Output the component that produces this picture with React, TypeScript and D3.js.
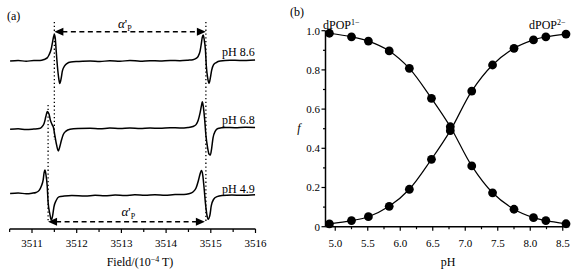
import React from 'react';
import * as d3 from 'd3';

// ---------- Panel (a): EPR spectra ----------
const fieldTicks = [3511, 3512, 3513, 3514, 3515, 3516];
const fieldMinor = [3510.5, 3511.5, 3512.5, 3513.5, 3514.5, 3515.5];
const traceLabels = ['pH 8.6', 'pH 6.8', 'pH 4.9'];

const field86 = [3510.51, 3510.69, 3510.87, 3511.04, 3511.18, 3511.27, 3511.34, 3511.38, 3511.43, 3511.46, 3511.48, 3511.50, 3511.52, 3511.54, 3511.57, 3511.60, 3511.62, 3511.65, 3511.68, 3511.73, 3511.78, 3511.87, 3512.03, 3512.30, 3512.52, 3512.74, 3512.97, 3513.19, 3513.42, 3513.64, 3513.86, 3514.09, 3514.31, 3514.49, 3514.60, 3514.67, 3514.72, 3514.76, 3514.79, 3514.81, 3514.83, 3514.85, 3514.88, 3514.90, 3514.93, 3514.96, 3514.99, 3515.02, 3515.06, 3515.12, 3515.21, 3515.43, 3515.65, 3515.99];
const int86 = [0, 0.02, -0.01, 0.02, 0.02, 0.06, 0.12, 0.23, 0.46, 0.73, 0.92, 1.02, 0.88, 0.42, -0.23, -0.69, -0.87, -0.69, -0.38, -0.19, -0.10, -0.04, -0.02, 0, -0.02, 0.01, -0.01, 0.02, -0.01, 0.01, 0, 0.02, 0.01, 0.03, 0.05, 0.10, 0.19, 0.38, 0.69, 0.92, 1.0, 0.85, 0.42, -0.19, -0.65, -0.86, -0.65, -0.35, -0.15, -0.06, 0, 0.03, 0.02, 0.04];

const field68 = [3510.51, 3510.69, 3510.87, 3511.04, 3511.16, 3511.22, 3511.27, 3511.31, 3511.34, 3511.38, 3511.41, 3511.45, 3511.48, 3511.51, 3511.55, 3511.59, 3511.62, 3511.66, 3511.70, 3511.76, 3511.85, 3512.03, 3512.30, 3512.52, 3512.74, 3512.97, 3513.19, 3513.42, 3513.64, 3513.86, 3514.09, 3514.31, 3514.49, 3514.60, 3514.67, 3514.72, 3514.76, 3514.79, 3514.81, 3514.83, 3514.86, 3514.89, 3514.93, 3514.96, 3514.99, 3515.02, 3515.05, 3515.10, 3515.16, 3515.32, 3515.54, 3515.77, 3515.99];
const int68 = [0, 0.02, -0.01, 0.01, 0.03, 0.09, 0.22, 0.49, 0.68, 0.59, 0.36, 0.18, 0.07, -0.22, -0.60, -0.83, -0.68, -0.41, -0.20, -0.07, 0, 0.03, 0.04, 0.02, 0.05, 0.03, 0.05, 0.03, 0.05, 0.04, 0.06, 0.05, 0.07, 0.11, 0.18, 0.36, 0.63, 0.90, 1.06, 0.90, 0.43, -0.22, -0.72, -0.95, -0.99, -0.72, -0.33, -0.07, 0.03, 0.07, 0.06, 0.08, 0.07];

const field49 = [3510.51, 3510.69, 3510.87, 3511.0, 3511.09, 3511.16, 3511.21, 3511.25, 3511.27, 3511.29, 3511.31, 3511.34, 3511.36, 3511.40, 3511.43, 3511.46, 3511.49, 3511.54, 3511.60, 3511.72, 3511.89, 3512.19, 3512.41, 3512.63, 3512.86, 3513.08, 3513.30, 3513.53, 3513.75, 3513.98, 3514.20, 3514.40, 3514.51, 3514.60, 3514.67, 3514.72, 3514.76, 3514.79, 3514.82, 3514.85, 3514.88, 3514.91, 3514.94, 3514.98, 3515.01, 3515.06, 3515.14, 3515.25, 3515.47, 3515.70, 3515.99];
const int49 = [0, 0.02, -0.01, 0.01, 0.04, 0.12, 0.29, 0.52, 0.79, 0.90, 0.75, 0.29, -0.33, -0.79, -1.02, -0.87, -0.52, -0.27, -0.13, -0.10, -0.08, -0.10, -0.07, -0.09, -0.06, -0.08, -0.05, -0.07, -0.05, -0.07, -0.04, -0.04, -0.01, 0.06, 0.21, 0.48, 0.75, 0.88, 0.71, 0.21, -0.37, -0.79, -0.99, -0.83, -0.48, -0.23, -0.12, -0.08, -0.06, -0.07, -0.05];

const traceFields = [field86, field68, field49];
const traceInts = [int86, int68, int49];

// marker fields for dotted guides and arrows
const guideLeftTop = 3511.50;
const guideLeftBottom = 3511.36;
const guideRight = 3514.89;

// ---------- Panel (b): fraction vs pH ----------
const phValues = [4.91, 5.25, 5.51, 5.83, 6.14, 6.48, 6.77, 7.10, 7.42, 7.75, 8.05, 8.24, 8.55];
const fMono = [0.987, 0.969, 0.947, 0.897, 0.808, 0.655, 0.51, 0.31, 0.173, 0.089, 0.046, 0.031, 0.015];
const fDi = [0.014, 0.031, 0.051, 0.104, 0.191, 0.344, 0.49, 0.692, 0.825, 0.910, 0.953, 0.969, 0.983];
const phTicks = [5.0, 5.5, 6.0, 6.5, 7.0, 7.5, 8.0, 8.5];
const phMinor = [5.25, 5.75, 6.25, 6.75, 7.25, 7.75, 8.25];
const fTicks = [0, 0.2, 0.4, 0.6, 0.8, 1.0];
const fMinor = [0.1, 0.3, 0.5, 0.7, 0.9];

const FONT = '"Liberation Serif", "Times New Roman", serif';

export default function App() {
  // Panel a scales
  const xA = d3.scaleLinear().domain([3510.5, 3516]).range([9.65, 255.5]);
  const axisYA = 229;
  const baselines = [61, 129.3, 193.5];
  const labelY = [56, 124, 192.5];

  // Panel b scales
  const xB = d3.scaleLinear().domain([4.85, 8.6]).range([325.5, 569.25]);
  const yB = d3.scaleLinear().domain([0, 1]).range([226.7, 30.7]);

  const lineB = (vals: number[]) =>
    d3.line<number>()
      .x((_, i) => xB(phValues[i]))
      .y((d) => yB(d))
      .curve(d3.curveCatmullRom.alpha(0.5))(vals) || '';

  const arrowTopY = 31.7;
  const arrowBotY = 221.7;

  const arrowHead = (x: number, y: number, dir: number) => {
    const L = 9, H = 4;
    return `M${x},${y} L${x - dir * L},${y - H} L${x - dir * L},${y + H} Z`;
  };

  return (
    <svg width={580} height={272} style={{ position: 'absolute', left: 0, top: 0, background: '#fff' }} fontFamily={FONT}>
      <rect x={0} y={0} width={580} height={272} fill="#fff" />
      {/* ---------- Panel (a) ---------- */}
      <text x={7} y={20} fontSize={12}>(a)</text>

      {traceFields.map((fs, t) => {
        const yS = d3.scaleLinear().domain([0, 1]).range([baselines[t], baselines[t] - 26]);
        const path = d3.line<number>()
          .x((d) => xA(d))
          .y((_, i) => yS(traceInts[t][i]))
          .curve(d3.curveMonotoneX)(fs) || '';
        return <path key={t} d={path} fill="none" stroke="#000" strokeWidth={1.5} strokeLinejoin="round" />;
      })}

      {traceLabels.map((l, i) => (
        <text key={l} x={222} y={labelY[i]} fontSize={12}>{l}</text>
      ))}

      {/* dotted guides */}
      <line x1={xA(guideLeftTop)} x2={xA(guideLeftTop)} y1={22} y2={140} stroke="#000" strokeWidth={1.3} strokeDasharray="1.3 2.5" />
      <line x1={xA(guideLeftBottom)} x2={xA(guideLeftBottom)} y1={105} y2={222} stroke="#000" strokeWidth={1.3} strokeDasharray="1.3 2.5" />
      <line x1={xA(guideRight)} x2={xA(guideRight)} y1={22} y2={222} stroke="#000" strokeWidth={1.3} strokeDasharray="1.3 2.5" />

      {/* top arrow */}
      <line x1={xA(guideLeftTop) + 8} x2={xA(guideRight) - 8} y1={arrowTopY} y2={arrowTopY} stroke="#000" strokeWidth={1.5} strokeDasharray="5 3.5" />
      <path d={arrowHead(xA(guideLeftTop), arrowTopY, -1)} fill="#000" />
      <path d={arrowHead(xA(guideRight), arrowTopY, 1)} fill="#000" />
      <text x={118} y={28} fontSize={13}>
        <tspan fontStyle="italic">α</tspan><tspan>'</tspan><tspan fontSize={8} dy={3}>P</tspan>
      </text>

      {/* bottom arrow */}
      <line x1={xA(guideLeftBottom) + 8} x2={xA(guideRight) - 8} y1={arrowBotY} y2={arrowBotY} stroke="#000" strokeWidth={1.5} strokeDasharray="5 3.5" />
      <path d={arrowHead(xA(guideLeftBottom), arrowBotY, -1)} fill="#000" />
      <path d={arrowHead(xA(guideRight) - 1, arrowBotY, 1)} fill="#000" />
      <text x={121.5} y={215.5} fontSize={13}>
        <tspan fontStyle="italic">α</tspan><tspan>'</tspan><tspan fontSize={8} dy={3}>P</tspan>
      </text>

      {/* x axis a */}
      <line x1={xA(3510.5)} x2={xA(3516)} y1={axisYA} y2={axisYA} stroke="#000" strokeWidth={1.5} />
      {fieldTicks.map((t) => (
        <g key={t}>
          <line x1={xA(t)} x2={xA(t)} y1={axisYA} y2={axisYA + 4} stroke="#000" strokeWidth={1.2} />
          <text x={xA(t)} y={247} fontSize={11} textAnchor="middle">{t}</text>
        </g>
      ))}
      {fieldMinor.map((t) => (
        <line key={t} x1={xA(t)} x2={xA(t)} y1={axisYA} y2={axisYA + 3} stroke="#000" strokeWidth={1.2} />
      ))}
      <text x={140} y={266} fontSize={12} textAnchor="middle">
        Field/(10<tspan fontSize={8} dy={-4}>−4</tspan><tspan dy={4}> T)</tspan>
      </text>

      {/* ---------- Panel (b) ---------- */}
      <text x={290} y={16} fontSize={12}>(b)</text>

      <path d={lineB(fMono)} fill="none" stroke="#000" strokeWidth={1.2} />
      <path d={lineB(fDi)} fill="none" stroke="#000" strokeWidth={1.2} />
      {fMono.map((v, i) => (
        <circle key={'m' + i} cx={xB(phValues[i])} cy={yB(v)} r={4.4} fill="#000" />
      ))}
      {fDi.map((v, i) => (
        <circle key={'d' + i} cx={xB(phValues[i])} cy={yB(v)} r={4.4} fill="#000" />
      ))}

      {/* y axis b */}
      <line x1={325.5} x2={325.5} y1={yB(1)} y2={yB(0)} stroke="#000" strokeWidth={1.5} />
      {fTicks.map((t) => (
        <g key={t}>
          <line x1={325.5} x2={321.5} y1={yB(t)} y2={yB(t)} stroke="#000" strokeWidth={1.2} />
          <text x={320} y={yB(t)} dy="0.35em" fontSize={11} textAnchor="end">{t === 0 ? '0' : t.toFixed(1)}</text>
        </g>
      ))}
      {fMinor.map((t) => (
        <line key={t} x1={325.5} x2={323} y1={yB(t)} y2={yB(t)} stroke="#000" strokeWidth={1.2} />
      ))}

      {/* x axis b */}
      <line x1={325.5} x2={569.25} y1={yB(0)} y2={yB(0)} stroke="#000" strokeWidth={1.5} />
      {phTicks.map((t) => (
        <g key={t}>
          <line x1={xB(t)} x2={xB(t)} y1={yB(0)} y2={yB(0) + 4} stroke="#000" strokeWidth={1.2} />
          <text x={xB(t)} y={247} fontSize={11} textAnchor="middle">{t.toFixed(1)}</text>
        </g>
      ))}
      {phMinor.map((t) => (
        <line key={t} x1={xB(t)} x2={xB(t)} y1={yB(0)} y2={yB(0) + 2.5} stroke="#000" strokeWidth={1.2} />
      ))}

      <text x={448} y={266} fontSize={12} textAnchor="middle">pH</text>
      <text x={299} y={132} fontSize={12} fontStyle="italic" textAnchor="middle">f</text>

      <text x={323} y={28.5} fontSize={12}>
        dPOP<tspan fontSize={8} dy={-4}>1−</tspan>
      </text>
      <text x={529} y={28.5} fontSize={12}>
        dPOP<tspan fontSize={8} dy={-4}>2−</tspan>
      </text>
    </svg>
  );
}
